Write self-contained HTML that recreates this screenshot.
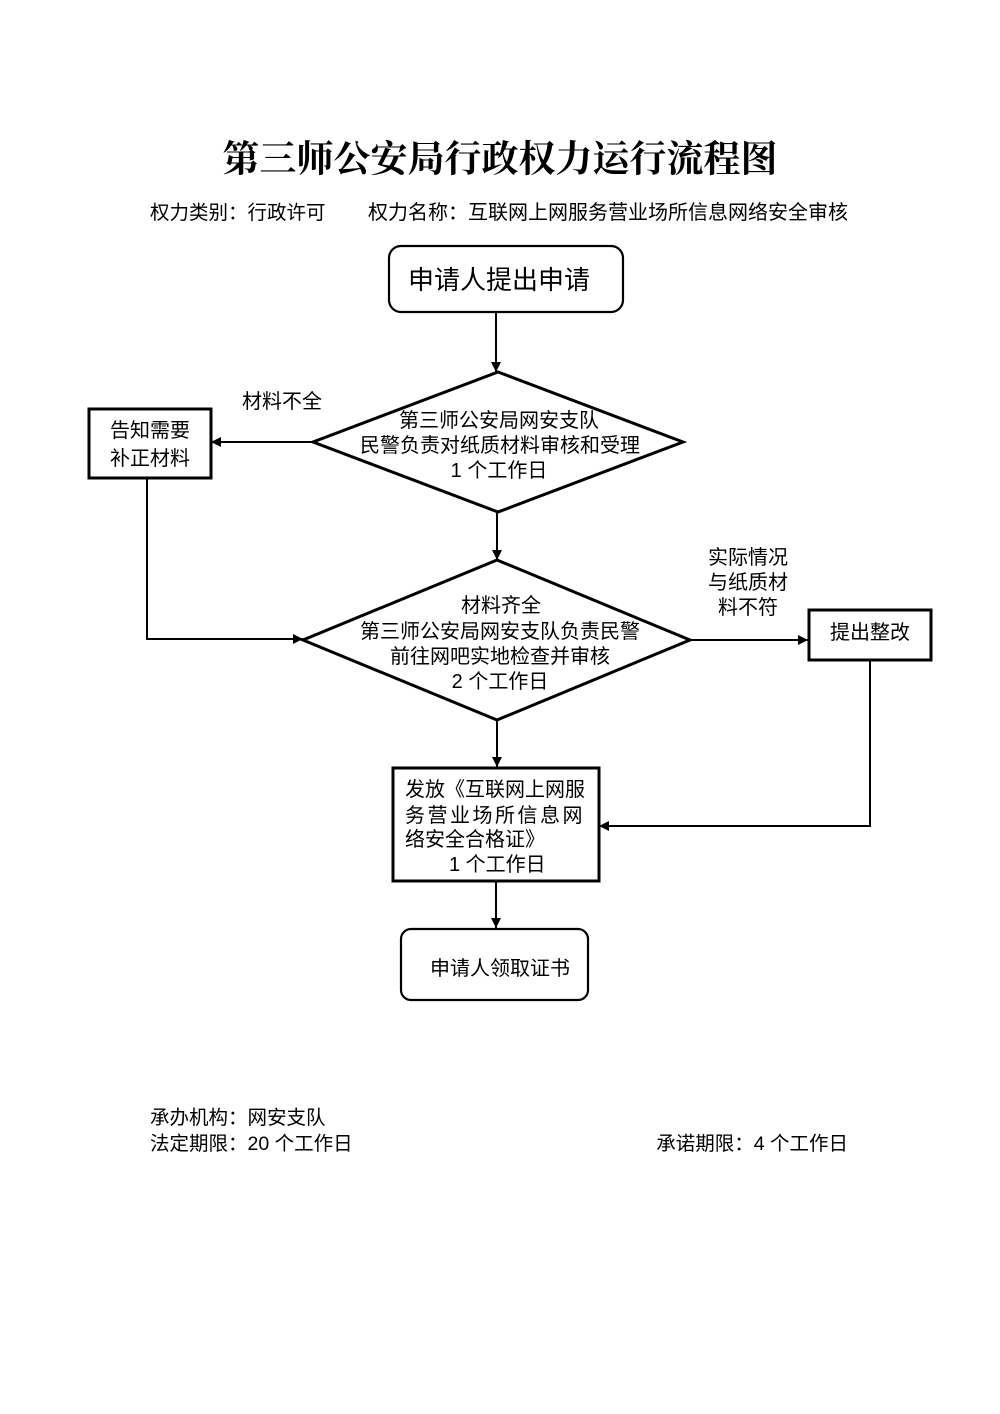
<!DOCTYPE html>
<html>
<head>
<meta charset="utf-8">
<style>
html,body{margin:0;padding:0;background:#fff;}
svg{display:block;}
.t{font-family:"Liberation Sans","Noto Sans CJK SC",sans-serif;fill:#000;}
.ti{font-family:"Liberation Serif","Noto Serif CJK SC",serif;font-weight:700;fill:#000;}
</style>
</head>
<body>
<svg width="1000" height="1414" viewBox="0 0 1000 1414" xmlns="http://www.w3.org/2000/svg">
<defs>
<marker id="ah" viewBox="0 0 10 10" refX="10" refY="5" markerWidth="10" markerHeight="10" markerUnits="userSpaceOnUse" orient="auto">
<path d="M0,0 L10,5 L0,10 z" fill="#000"/>
</marker>
</defs>

<!-- Title -->
<text class="ti" x="500" y="160" font-size="37" text-anchor="middle" dominant-baseline="central">第三师公安局行政权力运行流程图</text>

<!-- Subtitle -->
<text class="t" x="150" y="213" font-size="19.5" dominant-baseline="central">权力类别：行政许可</text>
<text class="t" x="368" y="213" font-size="20" dominant-baseline="central">权力名称：互联网上网服务营业场所信息网络安全审核</text>

<!-- Start box -->
<rect x="389" y="246" width="234" height="66" rx="12" ry="12" fill="#fff" stroke="#000" stroke-width="2.2"/>
<text class="t" x="499" y="280" font-size="26" text-anchor="middle" dominant-baseline="central">申请人提出申请</text>

<!-- Arrow start -> diamond1 -->
<line x1="496" y1="312" x2="496" y2="372" stroke="#000" stroke-width="2" marker-end="url(#ah)"/>

<!-- Diamond 1 -->
<polygon points="498,372 683,442 498,512 313,442" fill="#fff" stroke="#000" stroke-width="3"/>
<text class="t" x="499" y="421" font-size="20" text-anchor="middle" dominant-baseline="central">第三师公安局网安支队</text>
<text class="t" x="500" y="446" font-size="20" text-anchor="middle" dominant-baseline="central">民警负责对纸质材料审核和受理</text>
<text class="t" x="499" y="471" font-size="20" text-anchor="middle" dominant-baseline="central">1 个工作日</text>

<!-- Label 材料不全 -->
<text class="t" x="282" y="402" font-size="20" text-anchor="middle" dominant-baseline="central">材料不全</text>

<!-- Arrow diamond1 -> 告知 -->
<line x1="313" y1="442" x2="211" y2="442" stroke="#000" stroke-width="2" marker-end="url(#ah)"/>

<!-- Box 告知需要补正材料 -->
<rect x="89" y="409" width="122" height="69" fill="#fff" stroke="#000" stroke-width="3"/>
<text class="t" x="150" y="431" font-size="20" text-anchor="middle" dominant-baseline="central">告知需要</text>
<text class="t" x="150" y="459" font-size="20" text-anchor="middle" dominant-baseline="central">补正材料</text>

<!-- 告知 -> diamond2 -->
<polyline points="147,478 147,639 303,639" fill="none" stroke="#000" stroke-width="2" marker-end="url(#ah)"/>

<!-- Arrow diamond1 -> diamond2 -->
<line x1="497" y1="512" x2="497" y2="560" stroke="#000" stroke-width="2" marker-end="url(#ah)"/>

<!-- Diamond 2 -->
<polygon points="497,560 690,640 497,720 303,640" fill="#fff" stroke="#000" stroke-width="3"/>
<text class="t" x="501" y="606" font-size="20" text-anchor="middle" dominant-baseline="central">材料齐全</text>
<text class="t" x="500" y="632" font-size="20" text-anchor="middle" dominant-baseline="central">第三师公安局网安支队负责民警</text>
<text class="t" x="500" y="657" font-size="20" text-anchor="middle" dominant-baseline="central">前往网吧实地检查并审核</text>
<text class="t" x="500" y="682" font-size="20" text-anchor="middle" dominant-baseline="central">2 个工作日</text>

<!-- Label 实际情况 -->
<text class="t" x="748" y="558" font-size="20" text-anchor="middle" dominant-baseline="central">实际情况</text>
<text class="t" x="748" y="583" font-size="20" text-anchor="middle" dominant-baseline="central">与纸质材</text>
<text class="t" x="748" y="608" font-size="20" text-anchor="middle" dominant-baseline="central">料不符</text>

<!-- Arrow diamond2 -> 提出整改 -->
<line x1="690" y1="640" x2="808" y2="640" stroke="#000" stroke-width="2" marker-end="url(#ah)"/>

<!-- Box 提出整改 -->
<rect x="809" y="610" width="122" height="50" fill="#fff" stroke="#000" stroke-width="3"/>
<text class="t" x="870" y="633" font-size="20" text-anchor="middle" dominant-baseline="central">提出整改</text>

<!-- 提出整改 -> 发放 -->
<polyline points="870,660 870,826 599,826" fill="none" stroke="#000" stroke-width="2" marker-end="url(#ah)"/>

<!-- Arrow diamond2 -> 发放 -->
<line x1="497" y1="720" x2="497" y2="767" stroke="#000" stroke-width="2" marker-end="url(#ah)"/>

<!-- Box 发放 -->
<rect x="393" y="768" width="206" height="113" fill="#fff" stroke="#000" stroke-width="3"/>
<text class="t" x="405" y="790" font-size="20" dominant-baseline="central">发放《互联网上网服</text>
<text class="t" x="405" y="816" font-size="20" letter-spacing="2.5" dominant-baseline="central">务营业场所信息网</text>
<text class="t" x="405" y="840" font-size="20" dominant-baseline="central">络安全合格证》</text>
<text class="t" x="449" y="865" font-size="20" dominant-baseline="central">1 个工作日</text>

<!-- Arrow 发放 -> end -->
<line x1="496" y1="881" x2="496" y2="928" stroke="#000" stroke-width="2" marker-end="url(#ah)"/>

<!-- End box -->
<rect x="401" y="929" width="187" height="71" rx="10" ry="10" fill="#fff" stroke="#000" stroke-width="2.2"/>
<text class="t" x="430" y="969" font-size="20" dominant-baseline="central">申请人领取证书</text>

<!-- Footer -->
<text class="t" x="150" y="1118" font-size="19.5" dominant-baseline="central">承办机构：网安支队</text>
<text class="t" x="150" y="1144" font-size="19.5" dominant-baseline="central">法定期限：20 个工作日</text>
<text class="t" x="848" y="1144" font-size="19.5" text-anchor="end" dominant-baseline="central">承诺期限：4 个工作日</text>
</svg>
</body>
</html>
